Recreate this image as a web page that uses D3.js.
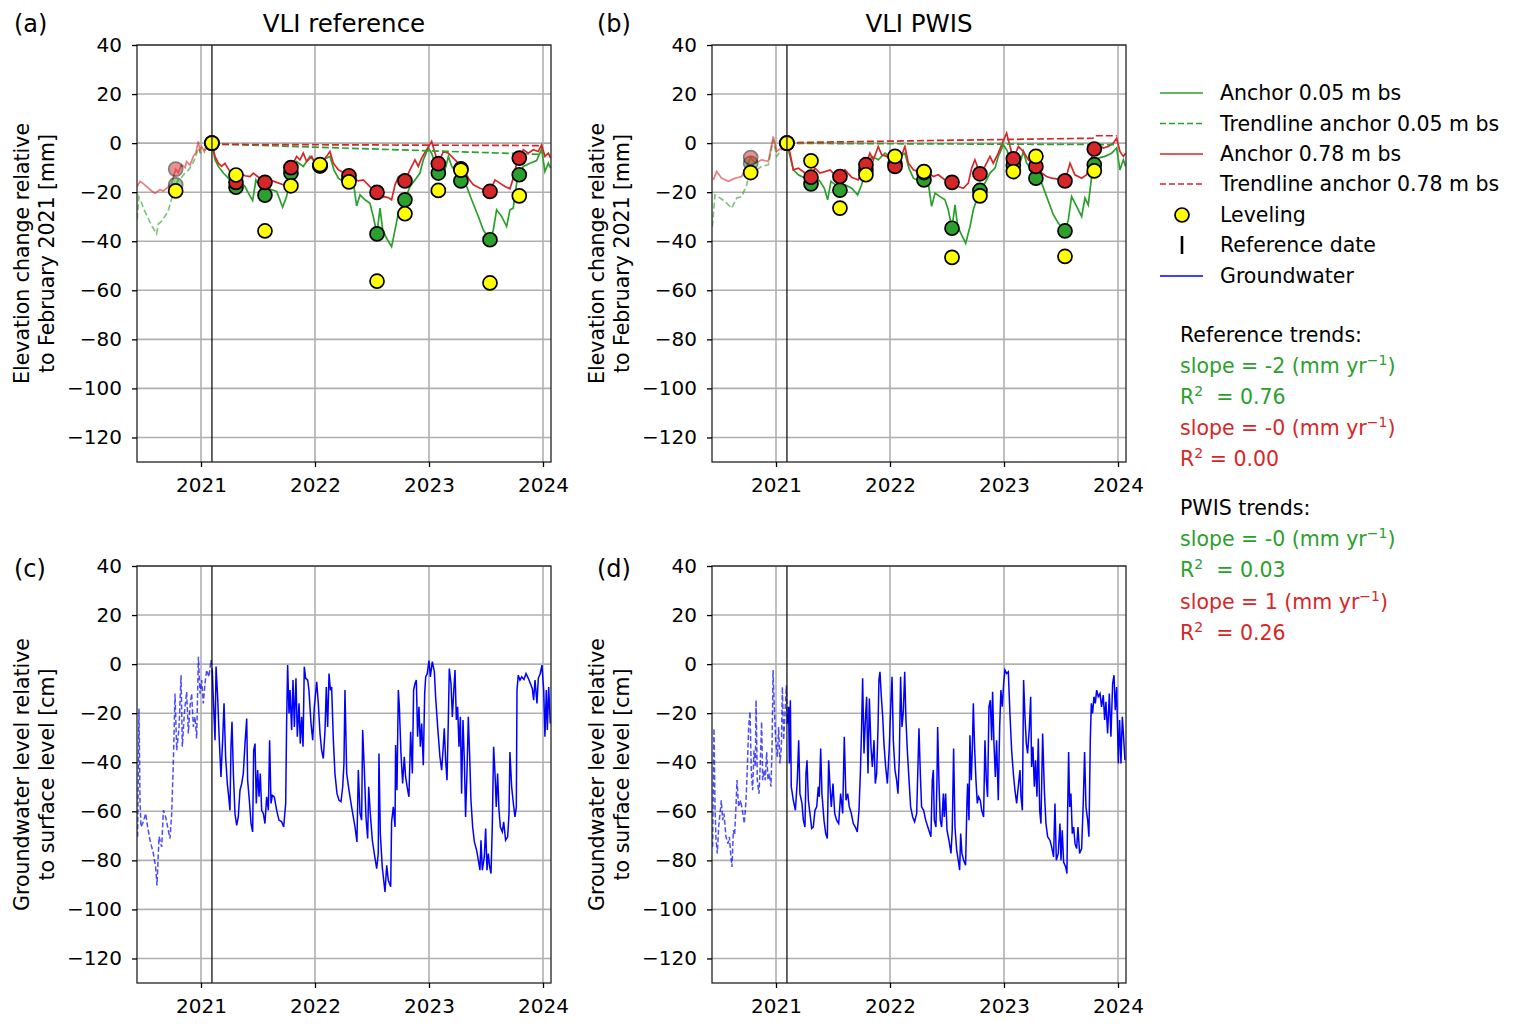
<!DOCTYPE html>
<html lang="en">
<head>
  <meta charset="UTF-8">
  <title>VLI reference vs PWIS</title>
  <style>
    body { margin: 0; background: #fff; font-family: "DejaVu Sans", sans-serif; }
    text { font-family: "DejaVu Sans", sans-serif; fill: #000; }
    .grid line { stroke: #b0b0b0; stroke-width: 1.6px; }
    .tick text { font-size: 20px; }
    .tick line { stroke: #000; stroke-width: 1.3px; }
  </style>
</head>
<body>
  <svg width="1516" height="1027"></svg>
  <script src="https://d3js.org/d3.v7.min.js"></script>
  <script>
    // ---- data (time in decimal years) ----
    const years = [2021, 2022, 2023, 2024];
    const yTicks = [-120, -100, -80, -60, -40, -20, 0, 20, 40];
    const refDate = 2021.096;

    // leveling campaigns
    const levelDates = [2020.778, 2021.096, 2021.307, 2021.561, 2021.789, 2022.044, 2022.298, 2022.544, 2022.789, 2023.082, 2023.280, 2023.535, 2023.792];
    const levelA   = [-19.5, 0, -13.0, -35.8, -17.4, -8.8, -15.8, -56.3, -28.8, -19.3, -11.0, -57.0, -21.5];
    const lev05A   = [-17.0, 0, -18.0, -21.2, -12.2, -9.3, -14.7, -37.0, -23.1, -12.2, -15.4, -39.4, -12.9];
    const lev78A   = [-10.6, 0, -16.0, -16.0, -10.0, -9.2, -13.3, -20.1, -15.4, -8.4, -10.5, -19.7, -6.1];
    const levelB   = [-12.0, 0, -7.2, -26.5, -12.9, -5.4, -11.6, -46.6, -21.5, -11.6, -5.4, -46.2, -11.3];
    const lev05B   = [-8.2, 0, -16.6, -19.2, -11.0, -8.5, -15.0, -34.7, -19.3, -9.0, -14.3, -35.8, -8.8];
    const lev78B   = [-5.9, 0, -13.9, -13.6, -8.8, -9.5, -12.0, -16.0, -12.5, -6.4, -9.5, -15.4, -2.4];

    // anchor 0.05 m bs, VLI reference
    const anchor05A = [[2020.440,-31],[2020.455,-22],[2020.475,-24],[2020.500,-27],[2020.530,-30],[2020.560,-33],[2020.585,-35],[2020.610,-37],[2020.625,-33],[2020.650,-32],[2020.680,-30],[2020.710,-28],[2020.740,-23],[2020.770,-18],[2020.800,-15],[2020.830,-14],[2020.860,-12],[2020.890,-11],[2020.920,-9],[2020.950,-6],[2020.975,-2],[2020.995,-4],[2021.030,-3],[2021.060,-2],[2021.096,0],
      [2021.123,-6.8],[2021.152,-9.5],[2021.196,-12.2],[2021.240,-14.3],[2021.307,-17.7],[2021.342,-15.6],[2021.386,-17.7],[2021.424,-21.1],[2021.453,-23.4],[2021.482,-15.0],[2021.523,-18.4],[2021.561,-21.2],[2021.605,-18.8],[2021.664,-19.7],[2021.716,-26.1],[2021.751,-21.8],[2021.789,-12.5],[2021.839,-7.5],[2021.897,-9.5],[2021.956,-5.4],[2022.014,-8.4],[2022.073,-6.8],[2022.131,-5.4],[2022.166,-10.9],[2022.205,-14.3],[2022.263,-16.3],[2022.307,-14.7],[2022.342,-17.7],[2022.365,-25.6],[2022.395,-21.1],[2022.439,-23.1],[2022.482,-24.5],[2022.511,-29.9],[2022.544,-37.0],[2022.570,-26.5],[2022.594,-35.4],[2022.628,-38.8],[2022.672,-42.2],[2022.702,-35.4],[2022.731,-28.6],[2022.760,-25.8],[2022.789,-23.1],[2022.833,-17.7],[2022.877,-15.0],[2022.921,-12.2],[2022.950,-6.8],[2022.994,-2.0],[2023.023,-4.1],[2023.082,-12.2],[2023.140,-10.9],[2023.170,-5.4],[2023.199,-9.5],[2023.243,-12.2],[2023.280,-15.4],[2023.330,-17.7],[2023.374,-23.1],[2023.433,-29.9],[2023.476,-35.4],[2023.535,-39.4],[2023.564,-35.4],[2023.593,-27.2],[2023.637,-29.9],[2023.681,-34.0],[2023.710,-27.2],[2023.739,-26.5],[2023.769,-16.3],[2023.792,-12.9],[2023.827,-9.5],[2023.886,-8.2],[2023.944,-7.1],[2023.988,-2.5],[2024.017,-11.6],[2024.047,-8.2],[2024.067,-10.2]];

    // anchor 0.78 m bs, VLI reference
    const anchor78A = [[2020.440,-17.7],[2020.465,-15.6],[2020.494,-16.5],[2020.523,-17.7],[2020.568,-19.5],[2020.597,-20.4],[2020.640,-19.0],[2020.669,-19.5],[2020.699,-18.4],[2020.743,-16.3],[2020.778,-10.6],[2020.800,-12.0],[2020.830,-8.8],[2020.860,-10.0],[2020.874,-7.5],[2020.903,-9.0],[2020.933,-5.4],[2020.955,-4.0],[2020.976,0.7],[2020.990,-3.0],[2021.006,-1.4],[2021.030,-3.5],[2021.050,0],[2021.070,-1.0],[2021.096,0],
      [2021.123,-5.4],[2021.152,-8.2],[2021.181,-9.5],[2021.210,-8.2],[2021.254,-11.6],[2021.307,-14.3],[2021.342,-12.2],[2021.386,-13.3],[2021.430,-13.6],[2021.459,-12.2],[2021.488,-13.3],[2021.532,-15.0],[2021.561,-16.0],[2021.605,-15.0],[2021.664,-16.0],[2021.722,-17.0],[2021.757,-17.7],[2021.780,-10.9],[2021.816,-7.5],[2021.839,-5.4],[2021.868,-6.8],[2021.897,-4.1],[2021.927,-7.5],[2021.971,-5.4],[2022.014,-9.5],[2022.058,-7.9],[2022.102,-5.4],[2022.131,-3.4],[2022.161,-8.2],[2022.205,-10.9],[2022.248,-12.0],[2022.298,-12.9],[2022.336,-14.7],[2022.380,-15.4],[2022.424,-15.0],[2022.482,-17.7],[2022.544,-20.1],[2022.599,-21.8],[2022.643,-22.2],[2022.672,-23.1],[2022.702,-17.0],[2022.731,-13.9],[2022.760,-15.6],[2022.789,-15.4],[2022.833,-10.9],[2022.877,-6.8],[2022.906,-9.5],[2022.935,-6.1],[2022.979,-2.7],[2023.023,0.7],[2023.053,-4.1],[2023.082,-8.2],[2023.126,-3.4],[2023.170,-4.1],[2023.213,-6.1],[2023.257,-8.2],[2023.280,-9.5],[2023.316,-11.6],[2023.345,-14.3],[2023.389,-17.0],[2023.447,-18.4],[2023.491,-19.0],[2023.535,-19.7],[2023.579,-15.0],[2023.622,-16.3],[2023.666,-17.7],[2023.710,-18.6],[2023.739,-14.3],[2023.769,-8.2],[2023.798,-6.1],[2023.827,-2.7],[2023.871,-4.1],[2023.915,-2.7],[2023.959,-3.4],[2023.988,-0.7],[2024.017,-5.4],[2024.047,-4.1],[2024.067,-6.1]];

    // anchor 0.05 m bs, VLI PWIS
    const anchor05B = [[2020.441,-34],[2020.465,-21.1],[2020.509,-22.4],[2020.552,-23.8],[2020.611,-26.5],[2020.655,-22.4],[2020.699,-21.8],[2020.743,-17.0],[2020.778,-9.5],[2020.830,-10.9],[2020.874,-9.5],[2020.933,-8.8],[2020.976,1.4],[2021.006,-5.4],[2021.050,-2.7],[2021.096,0],
      [2021.123,-5.4],[2021.152,-10.9],[2021.196,-12.9],[2021.254,-14.3],[2021.301,-16.6],[2021.342,-13.6],[2021.386,-15.6],[2021.424,-18.4],[2021.453,-23.1],[2021.482,-15.6],[2021.523,-17.0],[2021.561,-19.2],[2021.605,-17.0],[2021.664,-18.4],[2021.716,-21.1],[2021.751,-17.0],[2021.789,-10.9],[2021.839,-5.4],[2021.897,-6.8],[2021.956,-4.1],[2022.014,-6.1],[2022.044,-8.2],[2022.088,-5.4],[2022.131,-4.1],[2022.166,-10.2],[2022.205,-14.3],[2022.263,-15.6],[2022.292,-15.0],[2022.336,-16.3],[2022.365,-25.8],[2022.395,-20.4],[2022.439,-21.8],[2022.482,-23.1],[2022.511,-27.2],[2022.544,-34.7],[2022.570,-25.2],[2022.594,-34.0],[2022.628,-37.4],[2022.664,-40.8],[2022.702,-34.0],[2022.731,-27.2],[2022.760,-23.1],[2022.789,-19.3],[2022.833,-16.3],[2022.877,-12.2],[2022.921,-10.2],[2022.950,-5.4],[2022.994,-0.7],[2023.023,-2.7],[2023.082,-9.5],[2023.140,-8.2],[2023.170,-3.4],[2023.199,-8.2],[2023.243,-10.9],[2023.280,-14.3],[2023.330,-16.3],[2023.374,-21.8],[2023.433,-29.2],[2023.476,-32.6],[2023.535,-35.8],[2023.564,-31.3],[2023.593,-21.8],[2023.637,-25.8],[2023.681,-29.9],[2023.710,-22.4],[2023.739,-25.2],[2023.769,-13.6],[2023.792,-8.8],[2023.827,-6.1],[2023.886,-5.4],[2023.944,-4.1],[2023.988,-2.0],[2024.017,-10.9],[2024.047,-6.8],[2024.067,-9.5]];

    // anchor 0.78 m bs, VLI PWIS
    const anchor78B = [[2020.450,-15.0],[2020.479,-11.6],[2020.523,-14.3],[2020.582,-15.6],[2020.640,-14.3],[2020.699,-13.6],[2020.778,-5.9],[2020.816,-8.2],[2020.874,-6.8],[2020.933,-7.5],[2020.976,2.7],[2021.006,-3.4],[2021.050,-2.0],[2021.096,0],
      [2021.123,-4.1],[2021.152,-10.9],[2021.196,-10.2],[2021.254,-12.2],[2021.301,-13.9],[2021.342,-10.2],[2021.386,-12.2],[2021.430,-11.6],[2021.474,-10.9],[2021.517,-12.9],[2021.561,-13.6],[2021.605,-10.9],[2021.664,-13.9],[2021.722,-15.0],[2021.766,-10.9],[2021.789,-8.8],[2021.824,-4.1],[2021.854,-6.8],[2021.897,-1.4],[2021.927,-4.8],[2021.971,-5.4],[2022.014,-7.5],[2022.044,-9.5],[2022.088,-6.8],[2022.131,-1.4],[2022.161,-8.2],[2022.205,-10.9],[2022.248,-11.6],[2022.292,-12.2],[2022.336,-12.2],[2022.380,-13.6],[2022.424,-12.9],[2022.482,-15.0],[2022.544,-16.0],[2022.599,-17.7],[2022.643,-18.4],[2022.687,-16.3],[2022.716,-10.2],[2022.745,-6.8],[2022.789,-12.5],[2022.833,-9.5],[2022.877,-5.4],[2022.906,-8.2],[2022.950,-4.1],[2022.979,-0.7],[2023.023,4.1],[2023.053,-1.4],[2023.082,-6.4],[2023.126,-1.4],[2023.170,-3.4],[2023.213,-6.8],[2023.280,-9.5],[2023.330,-12.2],[2023.374,-13.6],[2023.418,-14.3],[2023.476,-14.7],[2023.535,-15.4],[2023.579,-8.2],[2023.622,-12.9],[2023.681,-14.3],[2023.725,-12.9],[2023.754,-8.2],[2023.792,-2.4],[2023.827,-0.7],[2023.871,-2.0],[2023.915,-1.4],[2023.959,0],[2023.988,2.0],[2024.017,-3.4],[2024.047,-5.4],[2024.067,-4.1]];

    // trendlines (from reference date)
    const trend05A = [[2021.096, -0.3], [2023.990, -4.6]];
    const trend78A = [[2021.096, -0.5], [2023.990, -1.0]];
    const trend05B = [[2021.096, -0.1], [2023.990, -0.6]];
    const trend78B = [[2021.096, 0.2], [2023.780, 2.0], [2023.800, 3.0], [2023.990, 3.0]];

    // groundwater level [cm], VLI reference site
    const gwA = [[2020.444,-70.4],[2020.456,-18.1],[2020.465,-55.5],[2020.474,-66.4],[2020.494,-64.3],[2020.515,-60.9],[2020.532,-66.4],[2020.553,-71.8],[2020.582,-77.2],[2020.602,-82.7],[2020.614,-90.2],[2020.632,-70.4],[2020.655,-74.5],[2020.670,-59.6],[2020.690,-62.3],[2020.713,-67.7],[2020.728,-71.1],[2020.743,-60.9],[2020.757,-40.5],[2020.772,-12.0],[2020.787,-35.1],[2020.807,-26.2],[2020.825,-4.5],[2020.836,-33.7],[2020.854,-20.1],[2020.874,-11.3],[2020.889,-28.3],[2020.903,-17.4],[2020.918,-12.0],[2020.933,-25.6],[2020.947,-21.5],[2020.962,-30.3],[2020.977,3.0],[2020.991,-12.0],[2021.006,-6.5],[2021.020,-16.0],[2021.035,-7.9],[2021.050,-2.4],[2021.070,-5.2],[2021.088,1.6],[2021.099,-2.4],
      [2021.105,-10.6],[2021.123,-31.0],[2021.132,-1.0],[2021.146,-13.3],[2021.158,-28.3],[2021.175,-46.0],[2021.190,-31.0],[2021.202,-16.0],[2021.216,-37.8],[2021.231,-48.7],[2021.246,-55.5],[2021.254,-59.6],[2021.263,-33.7],[2021.272,-23.5],[2021.284,-44.6],[2021.298,-60.9],[2021.313,-65.7],[2021.327,-62.3],[2021.342,-51.4],[2021.357,-48.7],[2021.371,-44.6],[2021.386,-32.4],[2021.401,-22.2],[2021.409,-47.3],[2021.424,-55.5],[2021.439,-65.0],[2021.453,-68.4],[2021.462,-35.1],[2021.474,-32.4],[2021.485,-56.8],[2021.497,-43.2],[2021.509,-54.1],[2021.520,-44.6],[2021.532,-59.6],[2021.547,-60.9],[2021.561,-65.0],[2021.576,-54.1],[2021.591,-59.6],[2021.602,-31.0],[2021.614,-56.8],[2021.626,-53.5],[2021.643,-54.1],[2021.664,-59.6],[2021.684,-63.6],[2021.708,-64.3],[2021.725,-66.4],[2021.743,-56.8],[2021.751,-24.2],[2021.760,-0.4],[2021.772,-20.1],[2021.781,-10.6],[2021.795,-26.9],[2021.807,-6.5],[2021.819,-25.6],[2021.833,-5.8],[2021.845,-29.6],[2021.860,-16.0],[2021.871,-32.4],[2021.883,-21.5],[2021.895,-33.7],[2021.906,-1.1],[2021.918,-5.8],[2021.936,-6.5],[2021.947,-10.6],[2021.965,-24.2],[2021.980,-31.0],[2021.994,-17.4],[2022.015,-7.2],[2022.029,-16.0],[2022.044,-28.3],[2022.058,-35.1],[2022.073,-38.5],[2022.088,-26.9],[2022.099,-9.3],[2022.111,-25.6],[2022.123,-3.8],[2022.135,-10.6],[2022.146,-9.3],[2022.161,-31.0],[2022.175,-44.6],[2022.193,-52.8],[2022.211,-55.5],[2022.228,-56.1],[2022.243,-50.0],[2022.254,-40.5],[2022.263,-10.6],[2022.278,-44.6],[2022.298,-51.4],[2022.321,-58.2],[2022.351,-66.4],[2022.368,-72.5],[2022.380,-43.2],[2022.395,-60.9],[2022.409,-63.6],[2022.418,-26.9],[2022.433,-43.2],[2022.447,-62.3],[2022.462,-71.1],[2022.471,-50.0],[2022.485,-60.9],[2022.503,-71.8],[2022.520,-77.2],[2022.541,-83.4],[2022.555,-77.2],[2022.561,-36.4],[2022.573,-69.1],[2022.590,-82.7],[2022.614,-92.9],[2022.629,-82.0],[2022.643,-88.1],[2022.664,-90.8],[2022.672,-64.3],[2022.687,-58.2],[2022.702,-66.4],[2022.707,-33.0],[2022.719,-51.4],[2022.731,-10.6],[2022.740,-17.4],[2022.754,-36.4],[2022.769,-48.7],[2022.783,-37.8],[2022.795,-46.0],[2022.813,-51.4],[2022.824,-54.1],[2022.839,-27.6],[2022.854,-44.6],[2022.865,-10.6],[2022.877,-7.9],[2022.889,-6.5],[2022.900,-29.6],[2022.912,-17.4],[2022.924,-33.7],[2022.936,-24.2],[2022.950,-41.2],[2022.962,-12.0],[2022.971,-5.2],[2022.985,-3.8],[2023.000,1.4],[2023.012,-5.2],[2023.029,1.0],[2023.047,-3.1],[2023.058,-13.3],[2023.076,-25.6],[2023.096,-37.8],[2023.111,-43.2],[2023.123,-35.1],[2023.134,-26.2],[2023.146,-39.2],[2023.158,-47.3],[2023.169,-24.2],[2023.178,-1.8],[2023.193,-7.9],[2023.205,-21.5],[2023.216,-12.0],[2023.228,-2.4],[2023.240,-22.8],[2023.251,-17.4],[2023.263,-33.7],[2023.275,-21.5],[2023.286,-52.8],[2023.298,-22.8],[2023.310,-39.2],[2023.321,-62.3],[2023.333,-44.6],[2023.345,-21.5],[2023.357,-37.8],[2023.368,-55.5],[2023.383,-66.4],[2023.398,-72.5],[2023.418,-75.9],[2023.433,-80.0],[2023.447,-84.0],[2023.456,-71.8],[2023.468,-84.0],[2023.485,-78.6],[2023.497,-67.0],[2023.509,-84.0],[2023.520,-77.2],[2023.532,-82.7],[2023.544,-85.4],[2023.555,-66.4],[2023.567,-33.7],[2023.579,-44.6],[2023.590,-58.2],[2023.602,-44.6],[2023.614,-59.6],[2023.626,-66.4],[2023.643,-68.4],[2023.655,-64.3],[2023.672,-71.8],[2023.690,-70.4],[2023.702,-60.9],[2023.710,-35.8],[2023.725,-50.0],[2023.740,-56.8],[2023.754,-62.3],[2023.766,-58.2],[2023.772,-10.6],[2023.783,-4.5],[2023.798,-6.5],[2023.813,-5.2],[2023.833,-6.3],[2023.851,-3.8],[2023.871,-5.8],[2023.889,-7.9],[2023.906,-9.9],[2023.918,-14.7],[2023.930,-6.5],[2023.947,-16.0],[2023.959,-5.8],[2023.976,-3.8],[2023.991,-0.4],[2024.006,-10.6],[2024.017,-29.6],[2024.029,-10.6],[2024.038,-26.9],[2024.050,-9.3],[2024.064,-24.2]];

    // groundwater level [cm], VLI PWIS site
    const gwB = [[2020.444,-74.5],[2020.456,-26.2],[2020.465,-58.2],[2020.474,-71.8],[2020.485,-77.2],[2020.497,-66.4],[2020.509,-60.9],[2020.520,-55.5],[2020.532,-63.6],[2020.544,-60.9],[2020.561,-70.4],[2020.579,-73.2],[2020.591,-70.4],[2020.602,-77.2],[2020.614,-82.7],[2020.626,-67.7],[2020.637,-69.8],[2020.649,-58.2],[2020.658,-47.3],[2020.672,-58.2],[2020.690,-55.5],[2020.705,-59.6],[2020.722,-65.0],[2020.737,-55.5],[2020.748,-43.2],[2020.760,-25.6],[2020.772,-19.4],[2020.784,-44.6],[2020.795,-51.4],[2020.807,-35.1],[2020.819,-41.9],[2020.825,-14.7],[2020.836,-47.3],[2020.851,-52.8],[2020.860,-43.2],[2020.874,-23.5],[2020.883,-47.3],[2020.895,-43.2],[2020.906,-47.3],[2020.918,-35.8],[2020.930,-47.3],[2020.941,-44.6],[2020.956,-50.0],[2020.965,-35.1],[2020.974,-2.4],[2020.985,-17.4],[2020.997,-31.0],[2021.012,-37.8],[2021.023,-25.6],[2021.035,-40.5],[2021.047,-33.7],[2021.056,-9.3],[2021.067,-31.0],[2021.079,-20.1],[2021.091,-8.6],[2021.099,-24.2],
      [2021.111,-17.4],[2021.117,-40.5],[2021.126,-14.7],[2021.134,-50.0],[2021.152,-55.5],[2021.170,-59.6],[2021.187,-47.3],[2021.199,-31.0],[2021.210,-52.8],[2021.228,-56.8],[2021.240,-63.6],[2021.254,-66.4],[2021.263,-44.6],[2021.272,-39.2],[2021.284,-55.5],[2021.298,-60.9],[2021.313,-67.0],[2021.327,-66.4],[2021.342,-59.6],[2021.357,-58.2],[2021.371,-50.0],[2021.380,-54.1],[2021.392,-34.4],[2021.403,-52.8],[2021.421,-63.6],[2021.436,-69.1],[2021.450,-71.1],[2021.462,-39.2],[2021.474,-50.0],[2021.485,-58.2],[2021.500,-48.7],[2021.515,-60.9],[2021.532,-63.6],[2021.550,-65.0],[2021.567,-52.8],[2021.585,-60.9],[2021.599,-29.6],[2021.614,-55.5],[2021.629,-52.8],[2021.643,-58.2],[2021.661,-60.9],[2021.678,-65.0],[2021.696,-66.4],[2021.713,-68.4],[2021.728,-59.6],[2021.740,-44.6],[2021.751,-25.6],[2021.760,-5.8],[2021.772,-36.4],[2021.784,-22.8],[2021.795,-13.3],[2021.807,-44.6],[2021.819,-14.0],[2021.833,-33.7],[2021.845,-41.9],[2021.860,-31.0],[2021.871,-48.7],[2021.883,-44.6],[2021.895,-25.6],[2021.903,-6.5],[2021.912,-3.1],[2021.924,-13.3],[2021.936,-21.5],[2021.947,-32.4],[2021.962,-41.9],[2021.977,-48.7],[2021.994,-33.7],[2022.006,-17.4],[2022.018,-5.2],[2022.029,-31.0],[2022.044,-43.2],[2022.058,-47.3],[2022.070,-52.8],[2022.082,-37.8],[2022.093,-5.2],[2022.105,-25.6],[2022.117,-19.4],[2022.129,-3.1],[2022.140,-22.8],[2022.152,-35.1],[2022.167,-47.3],[2022.181,-58.2],[2022.199,-62.3],[2022.216,-64.3],[2022.234,-60.9],[2022.242,-47.3],[2022.254,-26.2],[2022.266,-44.6],[2022.277,-58.2],[2022.295,-59.6],[2022.313,-63.6],[2022.336,-67.0],[2022.359,-70.4],[2022.371,-47.3],[2022.380,-43.2],[2022.389,-63.6],[2022.403,-66.4],[2022.412,-47.3],[2022.418,-25.6],[2022.430,-48.7],[2022.441,-63.6],[2022.453,-66.4],[2022.468,-52.8],[2022.476,-62.3],[2022.488,-52.8],[2022.500,-67.7],[2022.517,-71.8],[2022.535,-77.2],[2022.546,-67.7],[2022.558,-34.4],[2022.570,-66.4],[2022.585,-75.9],[2022.599,-80.0],[2022.611,-84.0],[2022.620,-69.1],[2022.631,-77.2],[2022.646,-80.0],[2022.663,-82.0],[2022.675,-56.8],[2022.681,-48.7],[2022.693,-63.6],[2022.701,-29.0],[2022.713,-47.3],[2022.722,-35.1],[2022.731,-16.0],[2022.742,-33.7],[2022.754,-47.3],[2022.766,-56.8],[2022.777,-54.1],[2022.792,-55.5],[2022.804,-59.6],[2022.821,-62.3],[2022.833,-31.0],[2022.845,-47.3],[2022.856,-54.1],[2022.868,-17.4],[2022.880,-14.7],[2022.892,-31.0],[2022.900,-11.3],[2022.912,-32.4],[2022.924,-46.0],[2022.935,-31.0],[2022.950,-55.5],[2022.962,-25.6],[2022.973,-10.6],[2022.985,-17.4],[2022.997,-7.9],[2023.008,-2.4],[2023.023,-3.8],[2023.038,-3.1],[2023.052,-20.1],[2023.067,-35.1],[2023.082,-44.6],[2023.096,-51.4],[2023.111,-56.8],[2023.125,-50.0],[2023.140,-43.2],[2023.149,-54.1],[2023.161,-59.6],[2023.172,-6.5],[2023.184,-21.5],[2023.196,-32.4],[2023.207,-36.4],[2023.222,-26.2],[2023.234,-13.3],[2023.242,-41.9],[2023.254,-33.7],[2023.266,-50.0],[2023.277,-39.2],[2023.289,-54.1],[2023.301,-30.3],[2023.313,-59.6],[2023.324,-65.0],[2023.339,-28.3],[2023.354,-51.4],[2023.368,-65.0],[2023.383,-70.4],[2023.403,-71.8],[2023.418,-74.5],[2023.435,-78.6],[2023.447,-56.8],[2023.459,-80.0],[2023.476,-77.2],[2023.491,-65.0],[2023.500,-80.0],[2023.511,-67.7],[2023.523,-80.7],[2023.541,-82.7],[2023.552,-85.4],[2023.558,-60.9],[2023.567,-35.8],[2023.576,-58.2],[2023.587,-52.8],[2023.599,-69.1],[2023.611,-66.4],[2023.623,-73.2],[2023.637,-75.2],[2023.649,-66.4],[2023.663,-77.2],[2023.681,-75.2],[2023.696,-55.5],[2023.707,-35.8],[2023.719,-58.2],[2023.734,-63.6],[2023.745,-70.4],[2023.757,-31.0],[2023.766,-16.0],[2023.777,-20.1],[2023.789,-13.3],[2023.801,-16.0],[2023.813,-10.6],[2023.827,-13.3],[2023.842,-12.0],[2023.856,-17.4],[2023.871,-12.6],[2023.883,-22.8],[2023.894,-15.4],[2023.909,-28.3],[2023.924,-12.0],[2023.938,-29.6],[2023.953,-7.9],[2023.965,-4.5],[2023.976,-18.8],[2023.988,-9.3],[2024.003,-40.5],[2024.014,-22.8],[2024.026,-40.5],[2024.038,-21.5],[2024.049,-29.6],[2024.061,-39.2]];

    // ---- layout ----
    const width = 1516, height = 1027;
    const green = "#2ca02c", red = "#d62728", blue = "#0000ff";
    const svg = d3.select("svg");
    svg.append("rect").attr("width", width).attr("height", height).attr("fill", "#fff");

    const panels = [
      {key: "a", label: "(a)", title: "VLI reference", x0: 137, y0: 45, labelX: 14, labelY: 32, kind: "vli",
       a05: anchor05A, a78: anchor78A, t05: trend05A, t78: trend78A, lev: levelA, l05: lev05A, l78: lev78A},
      {key: "b", label: "(b)", title: "VLI PWIS", x0: 712, y0: 45, labelX: 597, labelY: 32, kind: "vli",
       a05: anchor05B, a78: anchor78B, t05: trend05B, t78: trend78B, lev: levelB, l05: lev05B, l78: lev78B},
      {key: "c", label: "(c)", x0: 137, y0: 566, labelX: 14, labelY: 577, kind: "gw", gw: gwA},
      {key: "d", label: "(d)", x0: 712, y0: 566, labelX: 597, labelY: 577, kind: "gw", gw: gwB}
    ];
    const pw = 414, ph = 417;

    const fmt = d => d < 0 ? "\u2212" + Math.abs(d) : String(d);

    // split a series at the reference date (shared point keeps it continuous)
    function splitAtRef(data) {
      const i = data.findIndex(d => d[0] >= refDate - 1e-6);
      return [data.slice(0, i + 1), data.slice(i)];
    }

    panels.forEach(p => {
      const x = d3.scaleLinear().domain([2020.4386, 2024.0702]).range([0, pw]);
      const y = d3.scaleLinear().domain([-130, 40]).range([ph, 0]);
      const g = svg.append("g").attr("transform", `translate(${p.x0},${p.y0})`);

      g.append("clipPath").attr("id", "clip-" + p.key)
        .append("rect").attr("width", pw).attr("height", ph);

      // grid
      const grid = g.append("g").attr("class", "grid");
      grid.selectAll("line.gy").data(yTicks).join("line").attr("class", "gy")
        .attr("x1", 0).attr("x2", pw).attr("y1", d => y(d)).attr("y2", d => y(d));
      grid.selectAll("line.gx").data(years).join("line").attr("class", "gx")
        .attr("y1", 0).attr("y2", ph).attr("x1", d => x(d)).attr("x2", d => x(d));

      const plot = g.append("g").attr("clip-path", `url(#clip-${p.key})`);
      const line = d3.line().x(d => x(d[0])).y(d => y(d[1]));

      if (p.kind === "vli") {
        const [g05pre, g05] = splitAtRef(p.a05);
        const [r78pre, r78] = splitAtRef(p.a78);
        plot.append("path").datum(g05pre).attr("d", line).attr("fill", "none")
          .attr("stroke", green).attr("stroke-width", 1.7).attr("stroke-opacity", 0.6)
          .attr("stroke-dasharray", "6,3");
        plot.append("path").datum(r78pre).attr("d", line).attr("fill", "none")
          .attr("stroke", red).attr("stroke-width", 1.7).attr("stroke-opacity", 0.6);
        plot.append("path").datum(g05).attr("d", line).attr("fill", "none")
          .attr("stroke", green).attr("stroke-width", 1.7);
        plot.append("path").datum(r78).attr("d", line).attr("fill", "none")
          .attr("stroke", red).attr("stroke-width", 1.7);
        plot.append("path").datum(p.t05).attr("d", line).attr("fill", "none")
          .attr("stroke", green).attr("stroke-width", 1.7).attr("stroke-dasharray", "7,3");
        plot.append("path").datum(p.t78).attr("d", line).attr("fill", "none")
          .attr("stroke", red).attr("stroke-width", 1.7).attr("stroke-dasharray", "7,3");
      } else {
        const [pre, post] = splitAtRef(p.gw);
        plot.append("path").datum(pre).attr("d", line).attr("fill", "none")
          .attr("stroke", blue).attr("stroke-width", 1.5).attr("stroke-opacity", 0.7)
          .attr("stroke-dasharray", "5,2.5");
        plot.append("path").datum(post).attr("d", line).attr("fill", "none")
          .attr("stroke", blue).attr("stroke-width", 1.5);
      }

      // reference date
      g.append("line").attr("x1", x(refDate)).attr("x2", x(refDate))
        .attr("y1", 0).attr("y2", ph).attr("stroke", "#000").attr("stroke-width", 1.2);

      if (p.kind === "vli") {
        const pts = (vals, color) => levelDates.map((t, i) => ({t, v: vals[i], color, faded: t < refDate}));
        const marks = [...pts(p.l05, green), ...pts(p.l78, red)];
        plot.selectAll("circle.anc").data(marks).join("circle").attr("class", "anc")
          .attr("cx", d => x(d.t)).attr("cy", d => y(d.v)).attr("r", 7)
          .attr("fill", d => d.color).attr("stroke", "#000").attr("stroke-width", 1.7)
          .attr("opacity", d => d.faded ? 0.5 : 1);
        plot.selectAll("circle.lev").data(levelDates.map((t, i) => ({t, v: p.lev[i]})))
          .join("circle").attr("class", "lev")
          .attr("cx", d => x(d.t)).attr("cy", d => y(d.v)).attr("r", 7)
          .attr("fill", "#ffff00").attr("stroke", "#000").attr("stroke-width", 1.7);
      }

      // frame + axes
      g.append("rect").attr("width", pw).attr("height", ph).attr("fill", "none")
        .attr("stroke", "#222").attr("stroke-width", 1.3);
      const ax = g.append("g").call(d3.axisLeft(y).tickValues(yTicks).tickSize(5).tickPadding(10).tickFormat(fmt));
      ax.select(".domain").remove();
      const bx = g.append("g").attr("transform", `translate(0,${ph})`)
        .call(d3.axisBottom(x).tickValues(years).tickSize(5).tickPadding(11).tickFormat(d3.format("d")));
      bx.select(".domain").remove();

      if (p.title) {
        g.append("text").attr("x", pw / 2).attr("y", -13).attr("text-anchor", "middle")
          .style("font-size", "24.5px").text(p.title);
      }
      svg.append("text").attr("x", p.labelX).attr("y", p.labelY)
        .style("font-size", "24px").text(p.label);

      // y label
      const lbl = p.kind === "vli"
        ? ["Elevation change relative", "to February 2021 [mm]"]
        : ["Groundwater level relative", "to surface level [cm]"];
      const yl = svg.append("text")
        .attr("transform", `translate(${p.x0 - 108},${p.y0 + ph / 2}) rotate(-90)`)
        .attr("text-anchor", "middle").style("font-size", "20.5px");
      yl.append("tspan").attr("x", 0).attr("dy", 0).text(lbl[0]);
      yl.append("tspan").attr("x", 0).attr("dy", 24.5).text(lbl[1]);
    });

    // ---- legend ----
    const leg = svg.append("g").attr("transform", "translate(1160,0)");
    const items = [
      {y: 93, label: "Anchor 0.05 m bs", type: "line", color: green},
      {y: 123.5, label: "Trendline anchor 0.05 m bs", type: "dash", color: green},
      {y: 154, label: "Anchor 0.78 m bs", type: "line", color: red},
      {y: 184, label: "Trendline anchor 0.78 m bs", type: "dash", color: red},
      {y: 215, label: "Leveling", type: "dot"},
      {y: 245, label: "Reference date", type: "bar"},
      {y: 276, label: "Groundwater", type: "line", color: blue}
    ];
    items.forEach(it => {
      if (it.type === "line" || it.type === "dash") {
        leg.append("line").attr("x1", 0).attr("x2", 43).attr("y1", it.y).attr("y2", it.y)
          .attr("stroke", it.color).attr("stroke-width", 1.6)
          .attr("stroke-dasharray", it.type === "dash" ? "6,3" : null);
      } else if (it.type === "dot") {
        leg.append("circle").attr("cx", 22).attr("cy", it.y).attr("r", 7)
          .attr("fill", "#ffff00").attr("stroke", "#000").attr("stroke-width", 1.7);
      } else {
        leg.append("line").attr("x1", 22).attr("x2", 22).attr("y1", it.y - 9).attr("y2", it.y + 9)
          .attr("stroke", "#000").attr("stroke-width", 2.6);
      }
      leg.append("text").attr("x", 60).attr("y", it.y + 7).style("font-size", "20.5px").text(it.label);
    });

    // ---- trend annotations ----
    const notes = [
      {y: 342, color: "#000", parts: [["Reference trends:"]]},
      {y: 373, color: green, parts: [["slope = -2 (mm yr"], ["\u22121", "sup"], [")"]]},
      {y: 404, color: green, parts: [["R"], ["2", "sup"], ["  = 0.76"]]},
      {y: 435, color: red, parts: [["slope = -0 (mm yr"], ["\u22121", "sup"], [")"]]},
      {y: 466, color: red, parts: [["R"], ["2", "sup"], [" = 0.00"]]},
      {y: 515, color: "#000", parts: [["PWIS trends:"]]},
      {y: 546, color: green, parts: [["slope = -0 (mm yr"], ["\u22121", "sup"], [")"]]},
      {y: 577, color: green, parts: [["R"], ["2", "sup"], ["  = 0.03"]]},
      {y: 609, color: red, parts: [["slope = 1 (mm yr"], ["\u22121", "sup"], [")"]]},
      {y: 640, color: red, parts: [["R"], ["2", "sup"], ["  = 0.26"]]}
    ];
    notes.forEach(n => {
      const t = svg.append("text").attr("x", 1180).attr("y", n.y)
        .style("font-size", "20.5px").style("fill", n.color).attr("xml:space", "preserve")
        .style("white-space", "pre");
      let up = false;
      n.parts.forEach(([s, kind]) => {
        const ts = t.append("tspan").text(s).style("fill", n.color);
        if (kind === "sup") { ts.attr("dy", -8).style("font-size", "14px"); up = true; }
        else if (up) { ts.attr("dy", 8); up = false; }
      });
    });
  </script>
</body>
</html>
